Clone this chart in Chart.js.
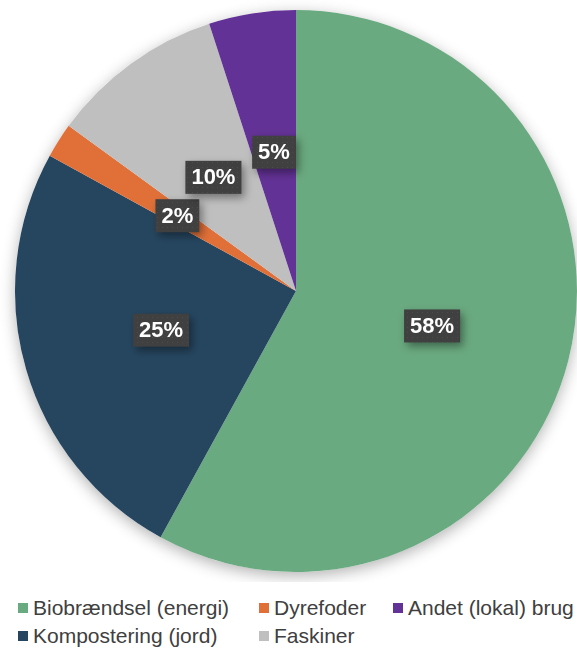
<!DOCTYPE html>
<html>
<head>
<meta charset="utf-8">
<script src="https://cdn.jsdelivr.net/npm/chart.js@4.4.1/dist/chart.umd.min.js"></script>
<style>
  html, body { margin: 0; padding: 0; background: #fff; }
  body { width: 577px; height: 649px; overflow: hidden; position: relative; }
  #wrap { position: absolute; left: 0; top: 0; width: 577px; height: 592px; overflow: hidden; }
  #legend {
    position: absolute; left: 18px; top: 594px;
    display: grid; grid-auto-flow: column;
    grid-template-rows: 28px 28px;
    grid-template-columns: 241px 134px auto;
    font-family: "Liberation Sans", Arial, sans-serif; font-size: 21px; color: #404040;
  }
  .item { display: flex; align-items: center; white-space: nowrap; }
  .box { width: 10px; height: 10px; margin-right: 5px; flex: none; }
</style>
</head>
<body>
<div id="wrap"><canvas id="pie" width="592" height="582"></canvas></div>
<div id="legend"></div>
<script>
const labels = ['Biobrændsel (energi)', 'Kompostering (jord)', 'Dyrefoder', 'Faskiner', 'Andet (lokal) brug']
const values = [58, 25, 2, 10, 5]
const colors = ['#6aaa80', '#264660', '#e07038', '#bfbfbf', '#633296']

const total = values.reduce((a, b) => a + b, 0)

// mønster til de mørke etiketbokse
const patt = document.createElement('canvas')
patt.width = 5
patt.height = 5
const pctx = patt.getContext('2d')
pctx.fillStyle = '#404040'
pctx.fillRect(0, 0, 5, 5)
pctx.fillStyle = '#4c4c4c'
pctx.fillRect(2, 2, 1, 1)

const pieShadow = {
  id: 'pieShadow',
  beforeDatasetsDraw(chart) {
    const arc = chart.getDatasetMeta(0).data[0]
    if (!arc) return
    const ctx = chart.ctx
    ctx.save()
    ctx.shadowColor = 'rgba(0,0,0,0.3)'
    ctx.shadowBlur = 15
    ctx.shadowOffsetY = 4
    ctx.fillStyle = '#ffffff'
    ctx.beginPath()
    ctx.arc(arc.x, arc.y, arc.outerRadius, 0, Math.PI * 2)
    ctx.fill()
    ctx.restore()
  }
}

const pctLabels = {
  id: 'pctLabels',
  afterDatasetsDraw(chart) {
    const ctx = chart.ctx
    const meta = chart.getDatasetMeta(0)
    ctx.save()
    ctx.font = 'bold 22px "Liberation Sans", Arial, sans-serif'
    ctx.textAlign = 'center'
    ctx.textBaseline = 'middle'
    meta.data.forEach((arc, i) => {
      const pos = arc.tooltipPosition()
      const txt = Math.round(values[i] / total * 100) + '%'
      const w = ctx.measureText(txt).width + 12
      const h = 33
      ctx.save()
      ctx.shadowColor = 'rgba(0,0,0,0.4)'
      ctx.shadowBlur = 8
      ctx.shadowOffsetX = 3
      ctx.shadowOffsetY = 4
      ctx.fillStyle = ctx.createPattern(patt, 'repeat')
      ctx.fillRect(pos.x - w / 2, pos.y - h / 2, w, h)
      ctx.restore()
      ctx.fillStyle = '#ffffff'
      ctx.fillText(txt, pos.x, pos.y + 1)
    })
    ctx.restore()
  }
}

new Chart(document.getElementById('pie'), {
  type: 'pie',
  data: {
    labels: labels,
    datasets: [{
      data: values,
      backgroundColor: colors,
      borderWidth: 0
    }]
  },
  options: {
    responsive: false,
    animation: false,
    layout: { padding: { top: 10, bottom: 10 } },
    plugins: {
      legend: { display: false },
      tooltip: { enabled: false }
    }
  },
  plugins: [pieShadow, pctLabels]
})

// forklaring i Excel-rækkefølge (kolonnevis)
const legend = document.getElementById('legend')
labels.forEach((lab, i) => {
  const el = document.createElement('div')
  el.className = 'item'
  el.innerHTML = '<span class="box" style="background:' + colors[i] + '"></span>' + lab
  legend.appendChild(el)
})
</script>
</body>
</html>
